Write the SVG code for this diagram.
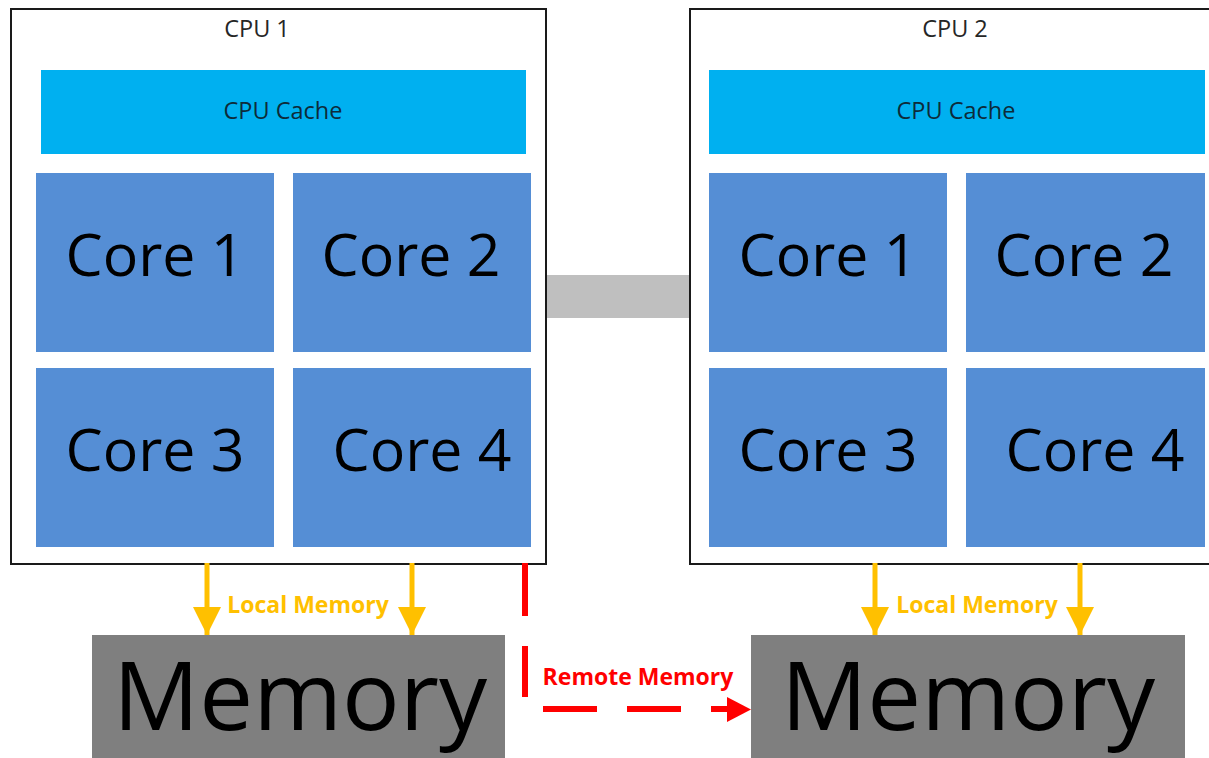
<svg xmlns="http://www.w3.org/2000/svg" width="1209" height="758" viewBox="0 0 1209 758">
<defs>
<style>
.cpu{fill:#fff;stroke:#1a1a1a;stroke-width:2}
.cache{fill:#00b0f0}
.core{fill:#558ed5}
.mem{fill:#7f7f7f}
.bus{fill:#bfbfbf}
.t{font-family:"Open Sans","Liberation Sans",sans-serif;text-anchor:middle;fill:#000}
.small{font-size:23.5px;fill:#262626}
.cachet{font-size:23.5px;fill:#0d2b3a}
.coret{font-size:59px}
.memt{font-size:96px}
.lbl{font-family:"Open Sans","Liberation Sans",sans-serif;font-weight:bold;font-size:23px;text-anchor:middle}
.local{stroke:#ffc000;stroke-width:5;fill:none}
.remote{stroke:#ff0000;stroke-width:6;fill:none;stroke-dasharray:53 30}
</style>
<marker id="ya" viewBox="0 0 10 10" refX="10" refY="5" markerUnits="userSpaceOnUse" markerWidth="38" markerHeight="28" orient="auto">
<path d="M0,0 L10,5 L0,10 Z" fill="#ffc000"/>
</marker>
</defs>
<rect width="1209" height="758" fill="#fff"/>

<g id="bus"><rect class="bus" x="546" y="275" width="144" height="43"/></g>

<g id="cpu1">
<rect class="cpu" x="11" y="9" width="535" height="555"/>
<text class="t small" x="257" y="37">CPU 1</text>
</g>
<g id="cache1">
<rect class="cache" x="41" y="70" width="485" height="84"/>
<text class="t cachet" x="283" y="119">CPU Cache</text>
</g>
<g id="cpu1-core1"><rect class="core" x="36" y="173" width="238" height="179"/><text class="t coret" x="155" y="276">Core 1</text></g>
<g id="cpu1-core2"><rect class="core" x="293" y="173" width="238" height="179"/><text class="t coret" x="411" y="276">Core 2</text></g>
<g id="cpu1-core3"><rect class="core" x="36" y="368" width="238" height="179"/><text class="t coret" x="155" y="471">Core 3</text></g>
<g id="cpu1-core4"><rect class="core" x="293" y="368" width="238" height="179"/><text class="t coret" x="422" y="471">Core 4</text></g>

<g id="cpu2">
<rect class="cpu" x="690" y="9" width="530" height="555"/>
<text class="t small" x="955" y="37">CPU 2</text>
</g>
<g id="cache2">
<rect class="cache" x="709" y="70" width="496" height="84"/>
<text class="t cachet" x="956" y="119">CPU Cache</text>
</g>
<g id="cpu2-core1"><rect class="core" x="709" y="173" width="238" height="179"/><text class="t coret" x="828" y="276">Core 1</text></g>
<g id="cpu2-core2"><rect class="core" x="966" y="173" width="239" height="179"/><text class="t coret" x="1084" y="276">Core 2</text></g>
<g id="cpu2-core3"><rect class="core" x="709" y="368" width="238" height="179"/><text class="t coret" x="828" y="471">Core 3</text></g>
<g id="cpu2-core4"><rect class="core" x="966" y="368" width="239" height="179"/><text class="t coret" x="1095" y="471">Core 4</text></g>

<g id="memory1">
<rect class="mem" x="92" y="635" width="413" height="130"/>
<text class="t memt" x="300" y="730">Memory</text>
</g>
<g id="memory2">
<rect class="mem" x="751" y="635" width="434" height="130"/>
<text class="t memt" x="968" y="730">Memory</text>
</g>

<g id="connectors">
<line class="local" x1="207" y1="563" x2="207" y2="635" marker-end="url(#ya)"/>
<line class="local" x1="412" y1="563" x2="412" y2="635" marker-end="url(#ya)"/>
<line class="local" x1="875" y1="563" x2="875" y2="635" marker-end="url(#ya)"/>
<line class="local" x1="1080" y1="563" x2="1080" y2="635" marker-end="url(#ya)"/>
<text class="lbl" x="308" y="613" fill="#ffc000">Local Memory</text>
<text class="lbl" x="977" y="613" fill="#ffc000">Local Memory</text>
<line class="remote" x1="525" y1="563" x2="525" y2="697"/>
<line class="remote" x1="543" y1="709" x2="729" y2="709" style="stroke-dasharray:54 30"/>
<path d="M727,697 L751,709.5 L727,722 Z" fill="#ff0000"/>
<text class="lbl" x="638" y="685" fill="#ff0000">Remote Memory</text>
</g>
</svg>
